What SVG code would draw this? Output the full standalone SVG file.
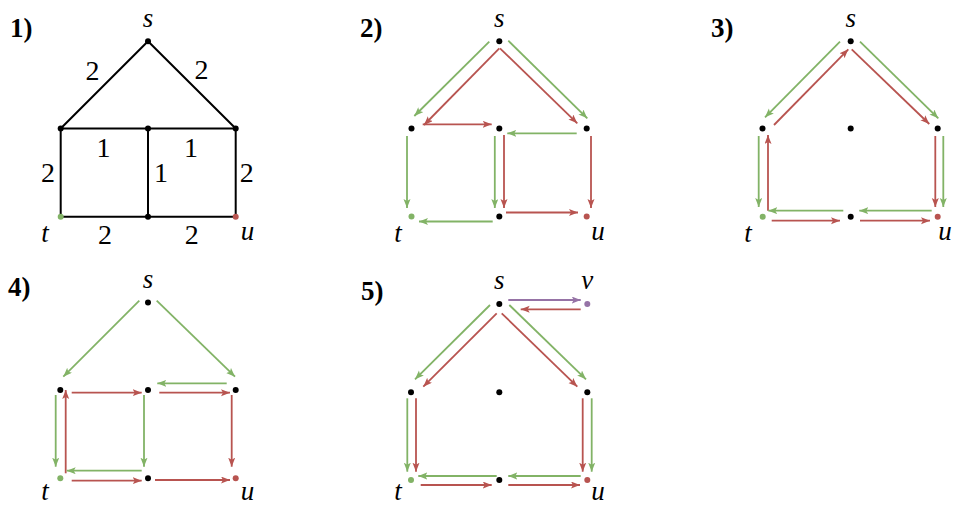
<svg xmlns="http://www.w3.org/2000/svg" width="955" height="505" viewBox="0 0 955 505">
<defs>
<style>
.e{stroke:#000;stroke-width:2;fill:none;stroke-linecap:round}
.g{stroke:#82b366;stroke-width:1.8;fill:none}
.r{stroke:#b85450;stroke-width:1.8;fill:none}
.p{stroke:#9673a6;stroke-width:1.8;fill:none}
.g{marker-end:url(#ag)}
.r{marker-end:url(#ar)}
.p{marker-end:url(#ap)}
.n{fill:#000}
.nt{fill:#82b366}
.nu{fill:#b85450}
.nv{fill:#9673a6}
.lab{font-family:'Liberation Serif','Times New Roman',serif;font-style:italic;font-size:27px;text-anchor:middle;fill:#000}
.w{font-family:'Liberation Serif','Times New Roman',serif;font-size:28px;text-anchor:middle;fill:#000}
.pn{font-family:'Liberation Serif','Times New Roman',serif;font-weight:bold;font-size:27px;fill:#000}
</style>
<marker id="ag" markerUnits="userSpaceOnUse" markerWidth="10" markerHeight="8" refX="9" refY="3.5" orient="auto"><path d="M0,0 L9,3.5 L0,7 L2,3.5 Z" fill="#82b366"/></marker>
<marker id="ar" markerUnits="userSpaceOnUse" markerWidth="10" markerHeight="8" refX="9" refY="3.5" orient="auto"><path d="M0,0 L9,3.5 L0,7 L2,3.5 Z" fill="#b85450"/></marker>
<marker id="ap" markerUnits="userSpaceOnUse" markerWidth="10" markerHeight="8" refX="9" refY="3.5" orient="auto"><path d="M0,0 L9,3.5 L0,7 L2,3.5 Z" fill="#9673a6"/></marker>
</defs>
<rect width="955" height="505" fill="#fff"/>

<g id="panel-labels">
<text class="pn" x="10" y="37">1)</text>
<text class="pn" x="360" y="37">2)</text>
<text class="pn" x="711" y="37">3)</text>
<text class="pn" x="8" y="296">4)</text>
<text class="pn" x="361" y="300">5)</text>
</g>

<g id="p1-connectors">
<line class="e" x1="148" y1="41.3" x2="60.7" y2="128.5"/>
<line class="e" x1="148" y1="41.3" x2="235.7" y2="128.5"/>
<line class="e" x1="60.7" y1="128.5" x2="235.7" y2="128.5"/>
<line class="e" x1="148" y1="128.5" x2="148" y2="216.7"/>
<line class="e" x1="60.7" y1="128.5" x2="60.7" y2="216.7"/>
<line class="e" x1="235.7" y1="128.5" x2="235.7" y2="216.7"/>
<line class="e" x1="60.7" y1="216.7" x2="235.7" y2="216.7"/>
<text class="w" x="92.5" y="80">2</text>
<text class="w" x="201.5" y="79">2</text>
<text class="w" x="103.5" y="157">1</text>
<text class="w" x="191" y="157">1</text>
<text class="w" x="48" y="182">2</text>
<text class="w" x="161" y="182">1</text>
<text class="w" x="246.7" y="182">2</text>
<text class="w" x="105" y="243.5">2</text>
<text class="w" x="191.7" y="243.5">2</text>
</g>
<g id="p1-s"><circle class="n" cx="148" cy="41.3" r="3"/><text class="lab" x="148" y="26.5">s</text></g>
<g id="p1-l"><circle class="n" cx="60.7" cy="128.5" r="3"/></g>
<g id="p1-c"><circle class="n" cx="148" cy="128.5" r="3"/></g>
<g id="p1-r"><circle class="n" cx="235.7" cy="128.5" r="3"/></g>
<g id="p1-t"><circle class="nt" cx="60.7" cy="216.7" r="3"/><text class="lab" x="45" y="241.5">t</text></g>
<g id="p1-b"><circle class="n" cx="148" cy="216.7" r="3"/></g>
<g id="p1-u"><circle class="nu" cx="235.7" cy="216.7" r="3"/><text class="lab" x="247.5" y="240">u</text></g>

<g id="p2-connectors">
<line class="g" x1="489.3" y1="41.7" x2="414.3" y2="116"/>
<line class="r" x1="499.3" y1="48.3" x2="424" y2="125"/>
<line class="r" x1="422.7" y1="124.3" x2="491.7" y2="124.3"/>
<line class="g" x1="508.3" y1="40.7" x2="587.3" y2="118.3"/>
<line class="r" x1="500" y1="48.3" x2="577.3" y2="123.3"/>
<line class="g" x1="576.7" y1="133.3" x2="507.3" y2="133.3"/>
<line class="g" x1="407" y1="136" x2="407" y2="208"/>
<line class="g" x1="494.8" y1="136" x2="494.8" y2="208"/>
<line class="r" x1="504" y1="135" x2="504" y2="208"/>
<line class="r" x1="591" y1="136" x2="591" y2="208"/>
<line class="g" x1="492.7" y1="221.5" x2="419" y2="221.5"/>
<line class="r" x1="506" y1="212.5" x2="578" y2="212.5"/>
</g>
<g id="p2-s"><circle class="n" cx="499.3" cy="41.3" r="3"/><text class="lab" x="499.3" y="26.5">s</text></g>
<g id="p2-l"><circle class="n" cx="411.5" cy="128.5" r="3"/></g>
<g id="p2-c"><circle class="n" cx="499.3" cy="128.5" r="3"/></g>
<g id="p2-r"><circle class="n" cx="586.7" cy="128.5" r="3"/></g>
<g id="p2-t"><circle class="nt" cx="411.5" cy="216.5" r="3"/><text class="lab" x="398" y="241.5">t</text></g>
<g id="p2-b"><circle class="n" cx="499.3" cy="216.5" r="3"/></g>
<g id="p2-u"><circle class="nu" cx="586.7" cy="216.5" r="3"/><text class="lab" x="598" y="240">u</text></g>

<g id="p3-connectors">
<line class="g" x1="840" y1="41.7" x2="765" y2="117.3"/>
<line class="r" x1="774" y1="125" x2="848.3" y2="49.3"/>
<line class="g" x1="860" y1="41.7" x2="938.3" y2="118.3"/>
<line class="r" x1="851.7" y1="49.3" x2="929.3" y2="124"/>
<line class="g" x1="758.7" y1="136" x2="758.7" y2="207"/>
<line class="r" x1="768" y1="210.7" x2="768" y2="135"/>
<line class="r" x1="935.3" y1="136" x2="935.3" y2="207"/>
<line class="g" x1="943.3" y1="136" x2="943.3" y2="207"/>
<line class="g" x1="843.3" y1="210.7" x2="768.3" y2="210.7"/>
<line class="r" x1="771.7" y1="220.7" x2="840" y2="220.7"/>
<line class="g" x1="931.7" y1="210.7" x2="859.3" y2="210.7"/>
<line class="r" x1="860" y1="220.7" x2="930" y2="220.7"/>
</g>
<g id="p3-s"><circle class="n" cx="850.7" cy="41.3" r="3"/><text class="lab" x="850.7" y="26.5">s</text></g>
<g id="p3-l"><circle class="n" cx="762.5" cy="128.5" r="3"/></g>
<g id="p3-c"><circle class="n" cx="850.7" cy="128.5" r="3"/></g>
<g id="p3-r"><circle class="n" cx="937.7" cy="128.5" r="3"/></g>
<g id="p3-t"><circle class="nt" cx="762.7" cy="216.7" r="3"/><text class="lab" x="748" y="241.5">t</text></g>
<g id="p3-b"><circle class="n" cx="850.7" cy="216.7" r="3"/></g>
<g id="p3-u"><circle class="nu" cx="937.7" cy="216.7" r="3"/><text class="lab" x="945" y="240">u</text></g>

<g id="p4-connectors">
<line class="g" x1="139.3" y1="300.7" x2="63.3" y2="376.7"/>
<line class="g" x1="156.7" y1="300.7" x2="235" y2="376.7"/>
<line class="r" x1="71.7" y1="392.7" x2="141.7" y2="392.7"/>
<line class="g" x1="226.7" y1="383.3" x2="157.3" y2="383.3"/>
<line class="r" x1="159.3" y1="392.7" x2="230" y2="392.7"/>
<line class="g" x1="55.7" y1="395" x2="55.7" y2="466.7"/>
<line class="r" x1="65.7" y1="473.3" x2="65.7" y2="390"/>
<line class="g" x1="144" y1="395" x2="144" y2="466.7"/>
<line class="r" x1="231.7" y1="395" x2="231.7" y2="466.7"/>
<line class="g" x1="141.7" y1="470.7" x2="66.7" y2="470.7"/>
<line class="r" x1="71.7" y1="480.7" x2="141.7" y2="480.7"/>
<line class="r" x1="155" y1="480" x2="230" y2="480"/>
</g>
<g id="p4-s"><circle class="n" cx="148" cy="302.5" r="3"/><text class="lab" x="148" y="287.5">s</text></g>
<g id="p4-l"><circle class="n" cx="60.3" cy="390" r="3"/></g>
<g id="p4-c"><circle class="n" cx="148" cy="390" r="3"/></g>
<g id="p4-r"><circle class="n" cx="235.7" cy="390" r="3"/></g>
<g id="p4-t"><circle class="nt" cx="60.3" cy="478.3" r="3"/><text class="lab" x="45" y="500">t</text></g>
<g id="p4-b"><circle class="n" cx="148" cy="478.3" r="3"/></g>
<g id="p4-u"><circle class="nu" cx="235.7" cy="478.3" r="3"/><text class="lab" x="247.5" y="500">u</text></g>

<g id="p5-connectors">
<line class="p" x1="508.3" y1="300" x2="580.7" y2="300"/>
<line class="r" x1="580.7" y1="309.3" x2="520.7" y2="309.3"/>
<line class="g" x1="490" y1="305" x2="415" y2="379.3"/>
<line class="r" x1="496.7" y1="313.3" x2="423.3" y2="386.7"/>
<line class="g" x1="509.3" y1="305" x2="586" y2="379.3"/>
<line class="r" x1="501.7" y1="313.3" x2="577.3" y2="386.7"/>
<line class="g" x1="407.3" y1="398.3" x2="407.3" y2="471.7"/>
<line class="r" x1="416" y1="398.3" x2="416" y2="471.7"/>
<line class="r" x1="582.7" y1="398.3" x2="582.7" y2="471.7"/>
<line class="g" x1="591.7" y1="398.3" x2="591.7" y2="471.7"/>
<line class="g" x1="496.7" y1="476" x2="418.3" y2="476"/>
<line class="r" x1="420.7" y1="485" x2="491.7" y2="485"/>
<line class="g" x1="580.7" y1="476" x2="508.3" y2="476"/>
<line class="r" x1="508.3" y1="485" x2="580" y2="485"/>
</g>
<g id="p5-s"><circle class="n" cx="499.3" cy="304" r="3"/><text class="lab" x="499.3" y="289">s</text></g>
<g id="p5-v"><circle class="nv" cx="587.3" cy="304" r="3"/><text class="lab" x="587.3" y="289">v</text></g>
<g id="p5-l"><circle class="n" cx="411" cy="392.3" r="3"/></g>
<g id="p5-c"><circle class="n" cx="499.3" cy="392.3" r="3"/></g>
<g id="p5-r"><circle class="n" cx="587.3" cy="392.3" r="3"/></g>
<g id="p5-t"><circle class="nt" cx="411" cy="480" r="3"/><text class="lab" x="398" y="500">t</text></g>
<g id="p5-b"><circle class="n" cx="499.3" cy="480" r="3"/></g>
<g id="p5-u"><circle class="nu" cx="587.3" cy="480" r="3"/><text class="lab" x="598" y="500">u</text></g>
</svg>
